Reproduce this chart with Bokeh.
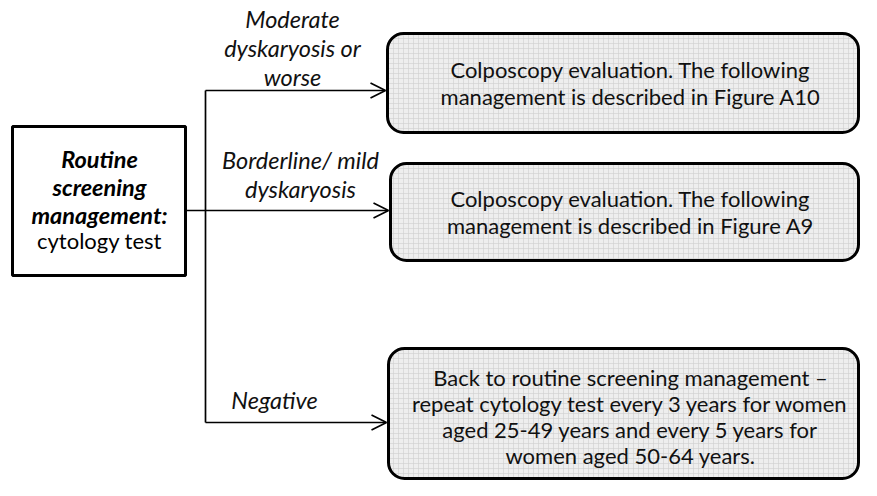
from bokeh.plotting import figure
from bokeh.models import ColumnDataSource, Range1d, Arrow, OpenHead
from bokeh.core.properties import value
from bokeh.embed import file_html
from bokeh.resources import INLINE

# ---- content ----
start_bold_lines = ["Routine", "screening", "management:"]
start_plain_lines = ["cytology test"]
branch_labels = [["Moderate", "dyskaryosis or", "worse"],
                 ["Borderline/ mild", "dyskaryosis"],
                 ["Negative"]]
outcome_lines = [["Colposcopy evaluation. The following",
                  "management is described in Figure A10"],
                 ["Colposcopy evaluation. The following",
                  "management is described in Figure A9"],
                 ["Back to routine screening management \u2013",
                  "repeat cytology test every 3 years for women",
                  "aged 25-49 years and every 5 years for",
                  "women aged 50-64 years."]]

# ---- layout (page pixels) ----
start_box = dict(left=12, right=185, top=126, bottom=275)
trunk_x = 205
branch_y = [90, 210, 422]
box_left = [387, 390, 388]
box_right = [858, 858, 858]
box_top = [33, 163, 348]
box_bottom = [132, 260, 478]
label_x = [292, 300, 274]
label_y0 = [18, 159, 399]
label_dy = 29
out_x = 630
out_y0 = [69, 198, 377]
out_dy = [27, 27, 26]
start_x = 99
start_y0 = 158
start_dy = 28

FONT = value("Lato")

p = figure(width=861, height=480, x_range=Range1d(0, 861), y_range=Range1d(480, 0),
           output_backend="svg", toolbar_location=None, min_border=0)
p.axis.visible = False
p.grid.visible = False
p.outline_line_color = None
p.background_fill_color = "white"

# start box
p.quad(left=[start_box["left"]], right=[start_box["right"]],
       top=[start_box["top"]], bottom=[start_box["bottom"]],
       fill_color="white", line_color="black", line_width=3)

# outcome boxes (rounded, grid-patterned)
p.quad(left=box_left, right=box_right, top=box_top, bottom=box_bottom,
       fill_color="#eeeeee", line_color="black", line_width=3,
       hatch_pattern="+", hatch_color="#d2d2d2", hatch_scale=5, hatch_weight=0.7,
       border_radius=16)

# connectors
p.segment(x0=[trunk_x, start_box["right"]], y0=[branch_y[0], branch_y[1]],
          x1=[trunk_x, trunk_x], y1=[branch_y[2], branch_y[1]],
          line_color="black", line_width=1.7)
arr_src = ColumnDataSource(dict(xs=[trunk_x] * 3, ys=branch_y,
                                xe=[b - 2 for b in box_left], ye=branch_y))
p.add_layout(Arrow(end=OpenHead(size=15, line_width=1.7, line_color="black"),
                   x_start="xs", y_start="ys", x_end="xe", y_end="ye",
                   line_width=1.7, line_color="black", source=arr_src))

# start box text
sx, sy, st = [], [], []
for i, t in enumerate(start_bold_lines):
    sx.append(start_x); sy.append(start_y0 + i * start_dy); st.append(t)
p.text(x=sx, y=sy, text=st, text_font=FONT, text_font_size="23.5px",
       text_font_style="bold italic", text_align="center", text_baseline="middle",
       text_color="black")
px_, py_, pt_ = [], [], []
for j, t in enumerate(start_plain_lines):
    px_.append(start_x); py_.append(start_y0 + (len(start_bold_lines) + j) * start_dy - 2)
    pt_.append(t)
p.text(x=px_, y=py_, text=pt_, text_font=FONT, text_font_size="22px",
       text_align="center", text_baseline="middle", text_color="black")

# branch labels
lx, ly, lt = [], [], []
for k, lines in enumerate(branch_labels):
    for i, t in enumerate(lines):
        lx.append(label_x[k]); ly.append(label_y0[k] + i * label_dy); lt.append(t)
p.text(x=lx, y=ly, text=lt, text_font=FONT, text_font_size="23.5px",
       text_font_style="italic", text_align="center", text_baseline="middle",
       text_color="#111111")

# outcome text
ox, oy, ot = [], [], []
for k, lines in enumerate(outcome_lines):
    for i, t in enumerate(lines):
        ox.append(out_x); oy.append(out_y0[k] + i * out_dy[k]); ot.append(t)
p.text(x=ox, y=oy, text=ot, text_font=FONT, text_font_size="22px",
       text_align="center", text_baseline="middle", text_color="#111111")

open("out.html", "w").write(file_html(p, INLINE))
